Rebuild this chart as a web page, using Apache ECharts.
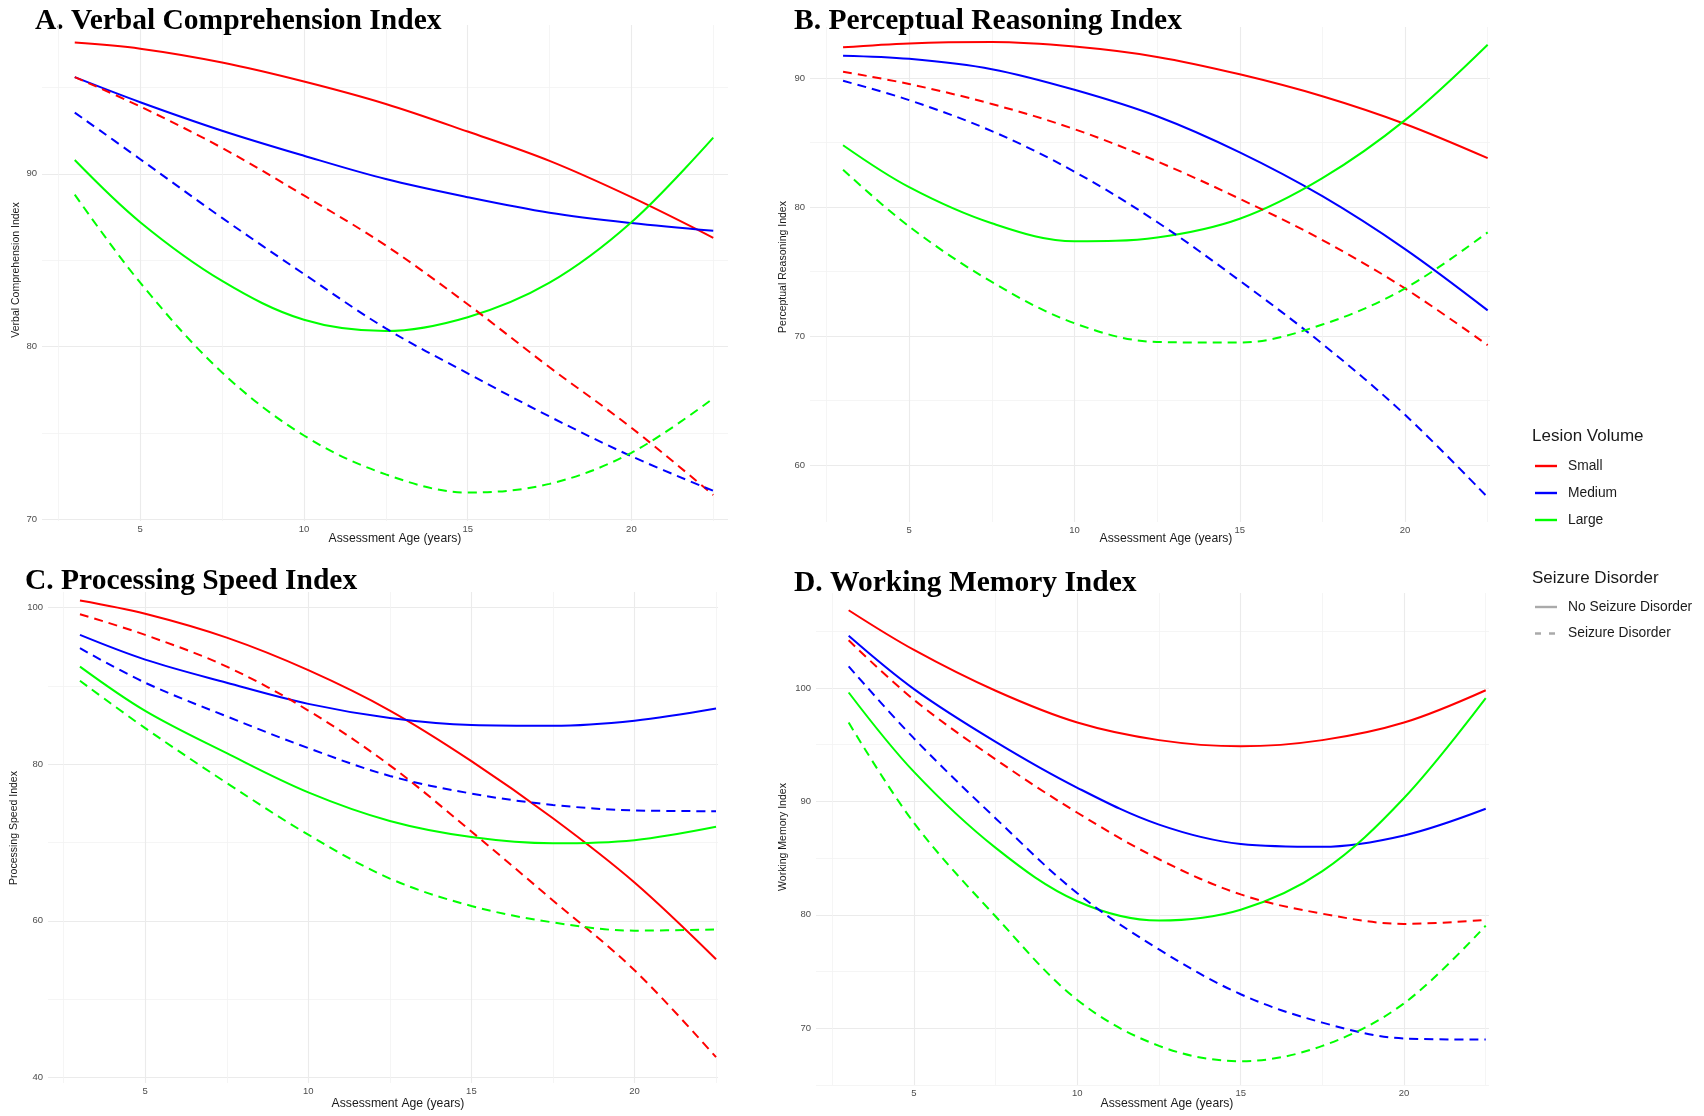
<!DOCTYPE html>
<html><head><meta charset="utf-8">
<script src="https://cdn.jsdelivr.net/npm/echarts@6/dist/echarts.min.js"></script>
<style>html,body{margin:0;padding:0;background:#fff}#c{width:1704px;height:1116px}</style>
</head><body><div id="c"></div>
<script>
// ---------- data ----------
const ages = [3, 5, 7.5, 10, 12.5, 15, 17.5, 20, 22.5];
const xMajor = [5, 10, 15, 20];
const xMinor = [2.5, 7.5, 12.5, 17.5, 22.5];
const lesionLevels = ['Small', 'Medium', 'Large'];
const seizureLevels = ['No Seizure Disorder', 'Seizure Disorder'];

// A. Verbal Comprehension Index
const vciSmallNo   = [97.6, 97.25, 96.45, 95.35, 94.05, 92.45, 90.75, 88.65, 86.3];
const vciMediumNo  = [95.6, 94.15, 92.5, 91.05, 89.7, 88.65, 87.75, 87.15, 86.7];
const vciLargeNo   = [90.8, 87.2, 83.8, 81.55, 80.9, 81.7, 83.7, 87.2, 92.1];
const vciSmallSz   = [95.6, 93.9, 91.5, 88.75, 85.85, 82.45, 78.8, 75.3, 71.4];
const vciMediumSz  = [93.55, 90.85, 87.45, 84.2, 81.05, 78.45, 75.95, 73.65, 71.65];
const vciLargeSz   = [88.8, 83.7, 78.5, 74.85, 72.6, 71.55, 72.05, 73.85, 77.0];
const vciYMajor = [70, 80, 90];
const vciYMinor = [75, 85, 95];

// B. Perceptual Reasoning Index
const priSmallNo   = [92.4, 92.7, 92.8, 92.45, 91.65, 90.3, 88.6, 86.45, 83.8];
const priMediumNo  = [91.75, 91.5, 90.7, 89.1, 87.05, 84.25, 80.85, 76.75, 72.0];
const priLargeNo   = [84.8, 81.55, 78.75, 77.35, 77.65, 79.1, 82.25, 86.75, 92.6];
const priSmallSz   = [90.5, 89.55, 88.0, 86.05, 83.55, 80.65, 77.45, 73.7, 69.3];
const priMediumSz  = [89.8, 88.3, 85.9, 82.75, 78.85, 74.3, 69.4, 63.9, 57.5];
const priLargeSz   = [82.9, 78.5, 74.2, 71.0, 69.55, 69.5, 70.9, 73.7, 78.05];
const priYMajor = [60, 70, 80, 90];
const priYMinor = [65, 75, 85];

// C. Processing Speed Index
const psiSmallNo   = [100.9, 99.2, 96.15, 92.0, 86.85, 80.4, 73.1, 64.9, 55.1];
const psiMediumNo  = [96.5, 93.35, 90.4, 87.7, 85.9, 85.0, 84.9, 85.55, 87.1];
const psiLargeNo   = [92.45, 86.8, 81.4, 76.4, 72.75, 70.7, 69.9, 70.3, 72.0];
const psiSmallSz   = [99.15, 96.5, 92.45, 86.85, 79.85, 71.4, 62.6, 53.7, 42.6];
const psiMediumSz  = [94.8, 90.4, 86.1, 82.05, 78.5, 76.25, 74.8, 74.1, 74.0];
const psiLargeSz   = [90.65, 84.6, 77.6, 71.0, 65.4, 61.9, 59.8, 58.75, 58.9];
const psiYMajor = [40, 60, 80, 100];
const psiYMinor = [50, 70, 90];

// D. Working Memory Index
const wmiSmallNo   = [106.85, 103.35, 99.75, 96.95, 95.4, 94.85, 95.4, 96.95, 99.8];
const wmiMediumNo  = [104.6, 99.9, 95.25, 91.2, 87.95, 86.25, 86.0, 87.0, 89.35];
const wmiLargeNo   = [99.6, 92.6, 85.9, 81.2, 79.5, 80.45, 83.85, 90.3, 99.1];
const wmiSmallSz   = [104.2, 98.95, 93.7, 89.0, 84.9, 81.8, 80.1, 79.2, 79.55];
const wmiMediumSz  = [101.9, 95.55, 88.5, 81.9, 76.95, 73.0, 70.5, 69.1, 69.0];
const wmiLargeSz   = [96.95, 88.1, 79.85, 72.5, 68.45, 67.1, 68.45, 72.2, 79.05];
const wmiYMajor = [70, 80, 90, 100];
const wmiYMinor = [65, 75, 85, 95, 105];

const panelTitles = ['A. Verbal Comprehension Index', 'B. Perceptual Reasoning Index',
                     'C. Processing Speed Index', 'D. Working Memory Index'];
const yTitles = ['Verbal Comprehension Index', 'Perceptual Reasoning Index',
                 'Processing Speed Index', 'Working Memory Index'];
const xTitle = 'Assessment Age (years)';

// ---------- layout / style ----------
const panels = [
  { series: [[vciSmallNo, vciMediumNo, vciLargeNo], [vciSmallSz, vciMediumSz, vciLargeSz]],
    yMajor: vciYMajor, yMinor: vciYMinor,
    grid: {left: 42, top: 25, width: 686, height: 496}, x: [2.0, 22.95], y: [69.9, 98.62],
    title: [35, 21.5], xt: [395, 539], yt: [16, 270] },
  { series: [[priSmallNo, priMediumNo, priLargeNo], [priSmallSz, priMediumSz, priLargeSz]],
    yMajor: priYMajor, yMinor: priYMinor,
    grid: {left: 810, top: 27, width: 680, height: 495}, x: [2.0, 22.57], y: [55.59, 93.97],
    title: [794, 21.5], xt: [1166, 539], yt: [783, 267] },
  { series: [[psiSmallNo, psiMediumNo, psiLargeNo], [psiSmallSz, psiMediumSz, psiLargeSz]],
    yMajor: psiYMajor, yMinor: psiYMinor,
    grid: {left: 48, top: 592, width: 670, height: 491}, x: [2.02, 22.56], y: [39.3, 101.98],
    title: [25, 581.5], xt: [398, 1104], yt: [14, 828] },
  { series: [[wmiSmallNo, wmiMediumNo, wmiLargeNo], [wmiSmallSz, wmiMediumSz, wmiLargeSz]],
    yMajor: wmiYMajor, yMinor: wmiYMinor,
    grid: {left: 816, top: 593, width: 673, height: 492}, x: [2.0, 22.6], y: [65.0, 108.37],
    title: [794, 583.5], xt: [1167, 1104], yt: [783, 837] }
];
const colors = ['#ff0000', '#0000ff', '#00ff00'];
const dashes = ['solid', [9, 6]];
const labelFont = 'Liberation Sans';

const grids = [], xAxes = [], yAxes = [], series = [], graphics = [];
panels.forEach((p, pi) => {
  grids.push(Object.assign({containLabel: false}, p.grid));
  const common = {type: 'value', gridIndex: pi, axisLine: {show: false}};
  xAxes.push(Object.assign({}, common, {
    min: p.x[0], max: p.x[1], position: 'bottom',
    axisTick: {show: false, customValues: xMajor},
    axisLabel: {customValues: xMajor, fontSize: 9.5, color: '#4d4d4d', margin: 3, fontFamily: labelFont},
    splitLine: {show: true, lineStyle: {color: '#ebebeb', width: 1.1}}
  }));
  yAxes.push(Object.assign({}, common, {
    min: p.y[0], max: p.y[1], position: 'left',
    axisTick: {show: false, customValues: p.yMajor},
    axisLabel: {customValues: p.yMajor, fontSize: 9.5, color: '#4d4d4d', margin: 5, fontFamily: labelFont},
    splitLine: {show: true, lineStyle: {color: '#ebebeb', width: 1.1}}
  }));
});
panels.forEach((p, pi) => {
  const common = {type: 'value', gridIndex: pi, axisLine: {show: false}, axisLabel: {show: false}};
  xAxes.push(Object.assign({}, common, {
    min: p.x[0], max: p.x[1], position: 'top',
    axisTick: {show: false, customValues: xMinor},
    splitLine: {show: true, lineStyle: {color: '#f3f3f3', width: 0.8}}
  }));
  yAxes.push(Object.assign({}, common, {
    min: p.y[0], max: p.y[1], position: 'right',
    axisTick: {show: false, customValues: p.yMinor},
    splitLine: {show: true, lineStyle: {color: '#f3f3f3', width: 0.8}}
  }));
});
panels.forEach((p, pi) => {
  p.series.forEach((group, si) => {
    group.forEach((vals, li) => {
      series.push({
        type: 'line', name: lesionLevels[li] + ' / ' + seizureLevels[si],
        xAxisIndex: pi, yAxisIndex: pi,
        data: ages.map((a, i) => [a, vals[i]]),
        showSymbol: false, smooth: 0.35, clip: true, silent: true,
        lineStyle: {width: 2, color: colors[li], type: dashes[si]},
        z: 3
      });
    });
  });
  graphics.push({type: 'text', x: p.title[0], y: p.title[1],
    style: {text: panelTitles[pi], font: 'bold 29.5px "Liberation Serif"', fill: '#000', verticalAlign: 'middle', align: 'left'}});
  graphics.push({type: 'text', x: p.xt[0], y: p.xt[1],
    style: {text: xTitle, font: '12.2px "Liberation Sans"', fill: '#1a1a1a', verticalAlign: 'middle', align: 'center'}});
  graphics.push({type: 'text', x: p.yt[0], y: p.yt[1], rotation: Math.PI / 2,
    style: {text: yTitles[pi], font: '10.5px "Liberation Sans"', fill: '#1a1a1a', verticalAlign: 'middle', align: 'center'}});
});

// legends
graphics.push({type: 'text', x: 1532, y: 436, style: {text: 'Lesion Volume', font: '17px "Liberation Sans"', fill: '#1a1a1a', verticalAlign: 'middle'}});
lesionLevels.forEach((l, i) => {
  const y = 466 + i * 27;
  graphics.push({type: 'line', shape: {x1: 1535, y1: y, x2: 1557, y2: y}, style: {stroke: colors[i], lineWidth: 2.4}});
  graphics.push({type: 'text', x: 1568, y: y, style: {text: l, font: '13.8px "Liberation Sans"', fill: '#1a1a1a', verticalAlign: 'middle'}});
});
graphics.push({type: 'text', x: 1532, y: 578, style: {text: 'Seizure Disorder', font: '17px "Liberation Sans"', fill: '#1a1a1a', verticalAlign: 'middle'}});
seizureLevels.forEach((s, i) => {
  const y = 607 + i * 26.5;
  graphics.push({type: 'line', shape: {x1: 1535, y1: y, x2: 1557, y2: y},
    style: {stroke: '#aaaaaa', lineWidth: 2.4, lineDash: i === 0 ? null : [6, 8]}});
  graphics.push({type: 'text', x: 1568, y: y, style: {text: s, font: '13.8px "Liberation Sans"', fill: '#1a1a1a', verticalAlign: 'middle'}});
});

const chart = echarts.init(document.getElementById('c'), null, {renderer: 'canvas'});
chart.setOption({
  animation: false,
  backgroundColor: '#ffffff',
  grid: grids, xAxis: xAxes, yAxis: yAxes, series: series, graphic: graphics
});
</script></body></html>
